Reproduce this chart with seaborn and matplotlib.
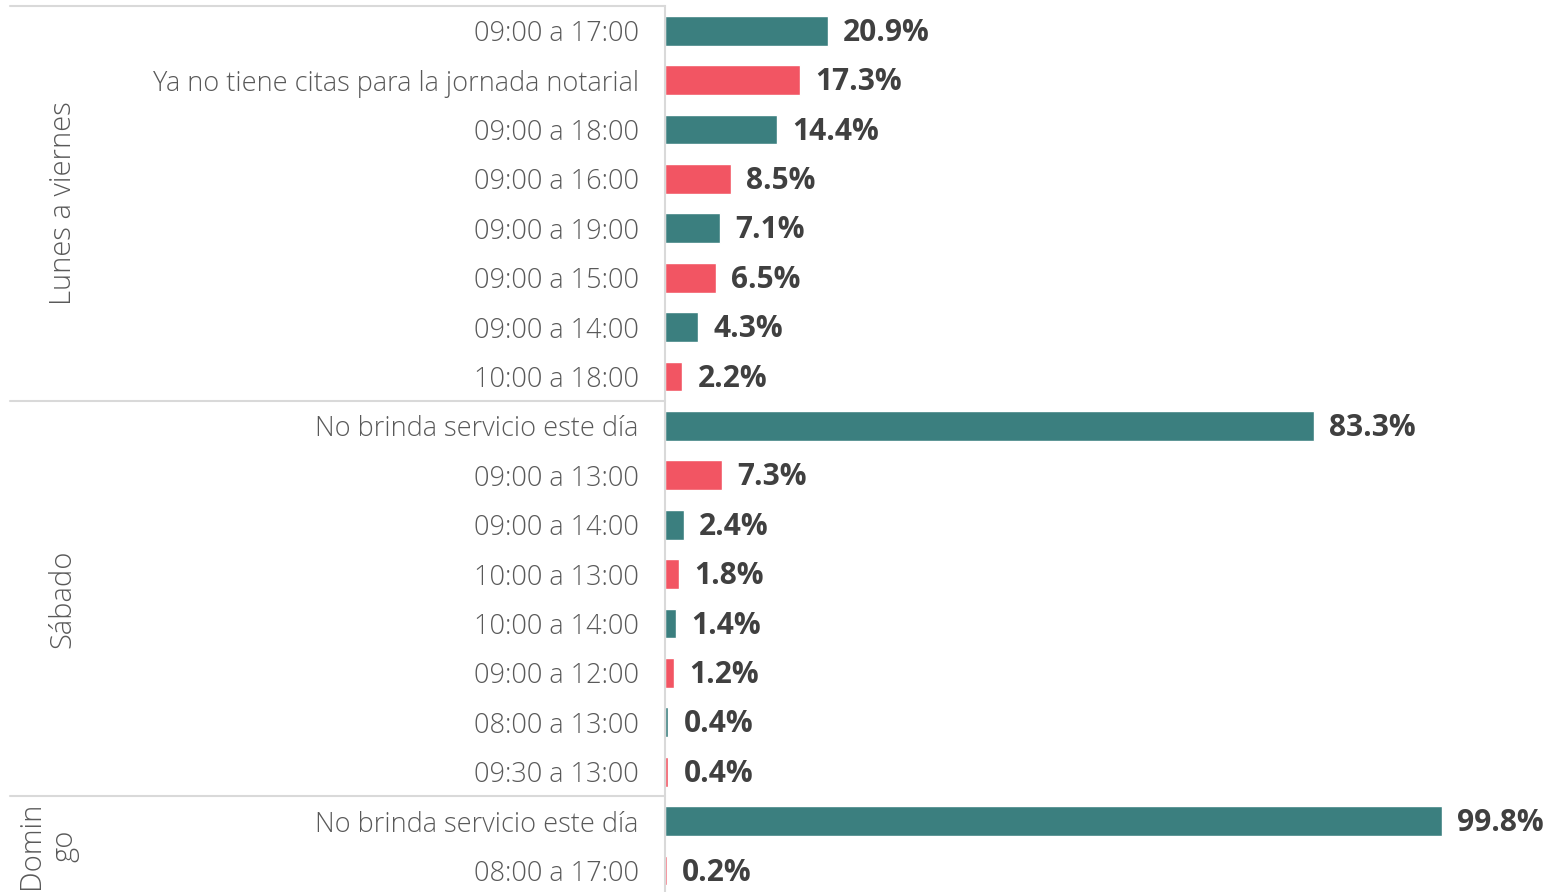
import matplotlib
matplotlib.use("Agg")
import matplotlib.pyplot as plt
import seaborn as sns
import pandas as pd

# horarios por grupo de días
grupos = ["Lunes a viernes", "Sábado", "Domin\ngo"]
etiquetas_lv = ["09:00 a 17:00", "Ya no tiene citas para la jornada notarial",
                "09:00 a 18:00", "09:00 a 16:00", "09:00 a 19:00",
                "09:00 a 15:00", "09:00 a 14:00", "10:00 a 18:00"]
valores_lv = [20.9, 17.3, 14.4, 8.5, 7.1, 6.5, 4.3, 2.2]
etiquetas_sab = ["No brinda servicio este día", "09:00 a 13:00", "09:00 a 14:00",
                 "10:00 a 13:00", "10:00 a 14:00", "09:00 a 12:00",
                 "08:00 a 13:00", "09:30 a 13:00"]
valores_sab = [83.3, 7.3, 2.4, 1.8, 1.4, 1.2, 0.4, 0.4]
etiquetas_dom = ["No brinda servicio este día", "08:00 a 17:00"]
valores_dom = [99.8, 0.2]

etiquetas = etiquetas_lv + etiquetas_sab + etiquetas_dom
valores = valores_lv + valores_sab + valores_dom
tamanos = [len(etiquetas_lv), len(etiquetas_sab), len(etiquetas_dom)]

df = pd.DataFrame({'fila': range(len(valores)), 'valor': valores})
colores = ['#3b7f7f' if i % 2 == 0 else '#f25563' for i in range(len(valores))]

sns.set_style('white')
plt.rcParams['font.family'] = ['Open Sans', 'DejaVu Sans']

fig = plt.figure(figsize=(15.53, 8.92), dpi=100)
ax = fig.add_axes([665 / 1553, 0, 1 - 665 / 1553, 1 - 6 / 892])

sns.barplot(data=df, x='valor', y='fila', hue='fila', palette=colores,
            orient='h', legend=False, width=0.6, ax=ax, saturation=1)

n = len(valores)
ax.set_ylim(-0.5 + 886 / 49.4, -0.5)
ax.set_xlim(0, 888 / 7.786)

ax.set_yticks(range(n))
ax.set_yticklabels(etiquetas, fontsize=19.5, color='#595959', fontweight='light')
ax.tick_params(axis='y', length=0, pad=19)
ax.set_xticks([])
ax.set_xlabel('')
ax.set_ylabel('')
for s in ['top', 'right', 'bottom']:
    ax.spines[s].set_visible(False)
ax.spines['left'].set_color('#d9d9d9')
ax.spines['left'].set_linewidth(1.5)

# etiquetas de valor
for i, v in enumerate(valores):
    ax.annotate(f'{v}%', (v, i), xytext=(11, -1.5), textcoords='offset points',
                va='center', ha='left', fontsize=21.5, fontweight='bold',
                color='#404040')

# separadores y nombres de grupo
trans = ax.get_yaxis_transform()
x0 = (10 - 665) / 888
inicio = 0
for g, t in zip(grupos, tamanos):
    ax.plot([x0, 0], [inicio - 0.5, inicio - 0.5], transform=trans,
            color='#d9d9d9', lw=1.5, clip_on=False)
    centro = inicio + (t - 1) / 2
    ax.text((48 - 665) / 888 if '\n' in g else (63 - 665) / 888, centro, g,
            transform=trans, rotation=90, ha='center', va='center',
            multialignment='center', fontsize=21, color='#595959',
            fontweight='light', linespacing=1.15)
    inicio += t

fig.savefig('out.png', dpi=100)
